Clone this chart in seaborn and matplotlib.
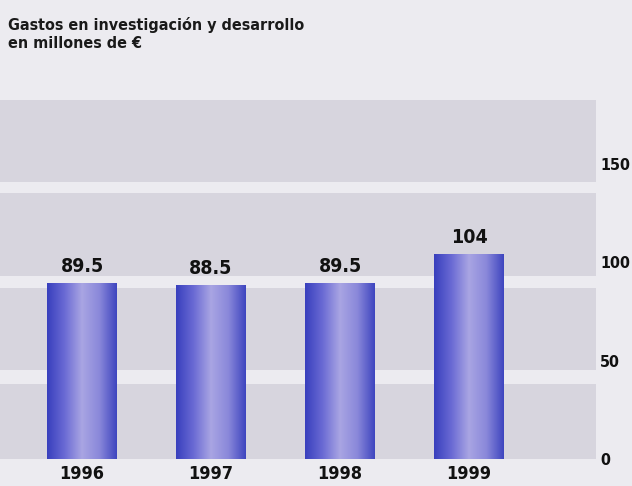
import numpy as np
import pandas as pd
import matplotlib
matplotlib.use("Agg")
import matplotlib.pyplot as plt
from matplotlib.colors import LinearSegmentedColormap
import seaborn as sns

# ---- data ----
years = ["1996", "1997", "1998", "1999"]
values = [89.5, 88.5, 89.5, 104]
value_labels = ["89.5", "88.5", "89.5", "104"]
y_ticks = [0, 50, 100, 150]
title = "Gastos en investigación y desarrollo\nen millones de €"

sns.set_theme(style="white")
plt.rcParams["font.family"] = ["Liberation Sans Narrow", "DejaVu Sans"]
plt.rcParams["font.weight"] = "bold"
plt.rcParams["font.stretch"] = "condensed"

W, H = 632, 486
fig = plt.figure(figsize=(W / 100, H / 100), dpi=100)
bg = "#ecebf0"
fig.patch.set_facecolor(bg)

right_px = 596
ax = fig.add_axes([0, (H - 459) / H, right_px / W, (459 - 100) / H])
ax.set_facecolor(bg)

df = pd.DataFrame({"year": years, "value": values})
sns.barplot(data=df, x="year", y="value", ax=ax, color="#6c6ad0",
            width=0.535, saturation=1, zorder=3, linewidth=0,
            edgecolor="none")
bar_patches = list(ax.patches)

cmap = LinearSegmentedColormap.from_list(
    "bar", ["#383fbd", "#6a6ad4", "#a9a5e3", "#8a88da", "#3e45bf"])
grad = np.linspace(0, 1, 256).reshape(1, -1)
for p in bar_patches:
    p.set_linewidth(0)
    x0, y0 = p.get_x(), p.get_y()
    w, h = p.get_width(), p.get_height()
    im = ax.imshow(grad, cmap=cmap, aspect="auto",
                   extent=(x0, x0 + w, y0, y0 + h), zorder=4)
    im.set_clip_path(p)

# decorative grey bands behind the bars
bands = [(0, 38), (45, 87), (93, 135), (141, 182.5)]
for lo, hi in bands:
    ax.axhspan(lo, hi, color="#d7d5de", zorder=0, lw=0)

# x: bar centres at px 82 + 129*i
ax.set_xlim(-82 / 129, -82 / 129 + right_px / 129)
ax.set_ylim(0, 182.5)

for i, (v, lab) in enumerate(zip(values, value_labels)):
    ax.annotate(lab, (i, v), xytext=(0, 5), textcoords="offset points",
                ha="center", va="bottom", fontsize=14, fontweight="bold",
                color="#111111", zorder=5)

ax.set_xlabel("")
ax.set_ylabel("")
ax.tick_params(axis="x", length=0, pad=4, labelsize=13, colors="#111111")
ax.yaxis.tick_right()
ax.set_yticks(y_ticks)
ax.set_yticklabels([str(t) for t in y_ticks])
ax.tick_params(axis="y", length=0, pad=3, labelsize=11.5, colors="#111111")
for lab in ax.get_xticklabels() + ax.get_yticklabels():
    lab.set_fontweight("bold")
for s in ax.spines.values():
    s.set_visible(False)

fig.text(8 / W, 1 - 17 / H, title, ha="left", va="top", fontsize=11.5,
         fontweight="bold", color="#1a1a1a", linespacing=1.25)

fig.savefig("out.png", dpi=100, facecolor=bg)
